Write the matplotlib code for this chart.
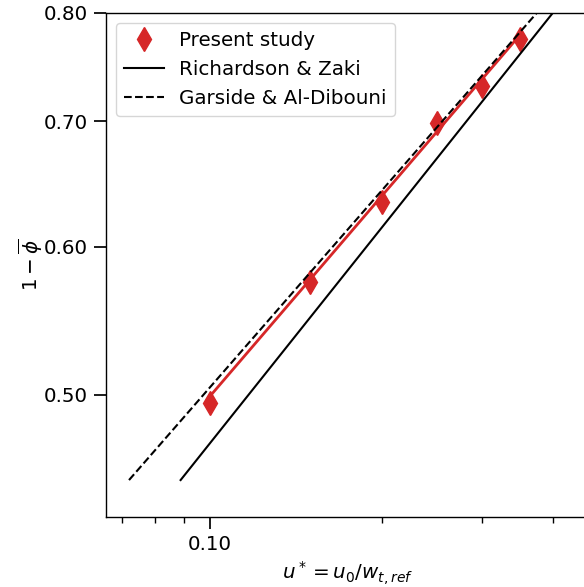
import matplotlib.pyplot as plt
from matplotlib.ticker import FixedLocator, FormatStrFormatter, NullFormatter, NullLocator

# Present study (measured points and power-law fit)
u_star = [0.10, 0.15, 0.20, 0.25, 0.30, 0.35]
porosity = [0.495, 0.574, 0.634, 0.699, 0.731, 0.775]
fit_u = [0.10, 0.35]
fit_por = [0.499, 0.779]

# Empirical correlations
rz_u = [0.0888, 0.399]
rz_por = [0.45, 0.80]
ga_u = [0.0721, 0.374]
ga_por = [0.45, 0.80]

y_ticks = [0.5, 0.6, 0.7, 0.8]

plt.rcParams['font.size'] = 14.3

fig = plt.figure(figsize=(5.84, 5.87), dpi=100)
ax = fig.add_axes([0.1815, 0.1193, 0.829, 0.8586])

ax.plot(u_star, porosity, linestyle='none', marker='d', markersize=12,
        color='tab:red', label='Present study')
ax.plot(fit_u, fit_por, color='tab:red', lw=2)
ax.plot(rz_u, rz_por, color='black', lw=1.5, label='Richardson & Zaki')
ax.plot(ga_u, ga_por, color='black', lw=1.5, linestyle='--',
        label='Garside & Al-Dibouni')

ax.set_xscale('log')
ax.set_yscale('log')
ax.set_xlim(0.0657, 0.464)
ax.set_ylim(0.430, 0.80)

ax.yaxis.set_major_locator(FixedLocator(y_ticks))
ax.yaxis.set_major_formatter(FormatStrFormatter('%.2f'))
ax.yaxis.set_minor_locator(NullLocator())
ax.xaxis.set_major_formatter(FormatStrFormatter('%.2f'))
ax.xaxis.set_minor_formatter(NullFormatter())

ax.tick_params(which='major', length=8.5, width=1.25, labelsize=14.3, pad=4.5)
ax.tick_params(which='minor', length=4.5, width=1.0)
for s in ax.spines.values():
    s.set_linewidth(1.0)

ax.set_xlabel(r'$u^* = u_0/w_{t,ref}$', fontsize=14.3)
ax.set_ylabel(r'$1-\overline{\phi}$', fontsize=14.3, labelpad=-1)

ax.legend(loc='upper left', fontsize=14.3)

fig.savefig('out.png', dpi=100)
